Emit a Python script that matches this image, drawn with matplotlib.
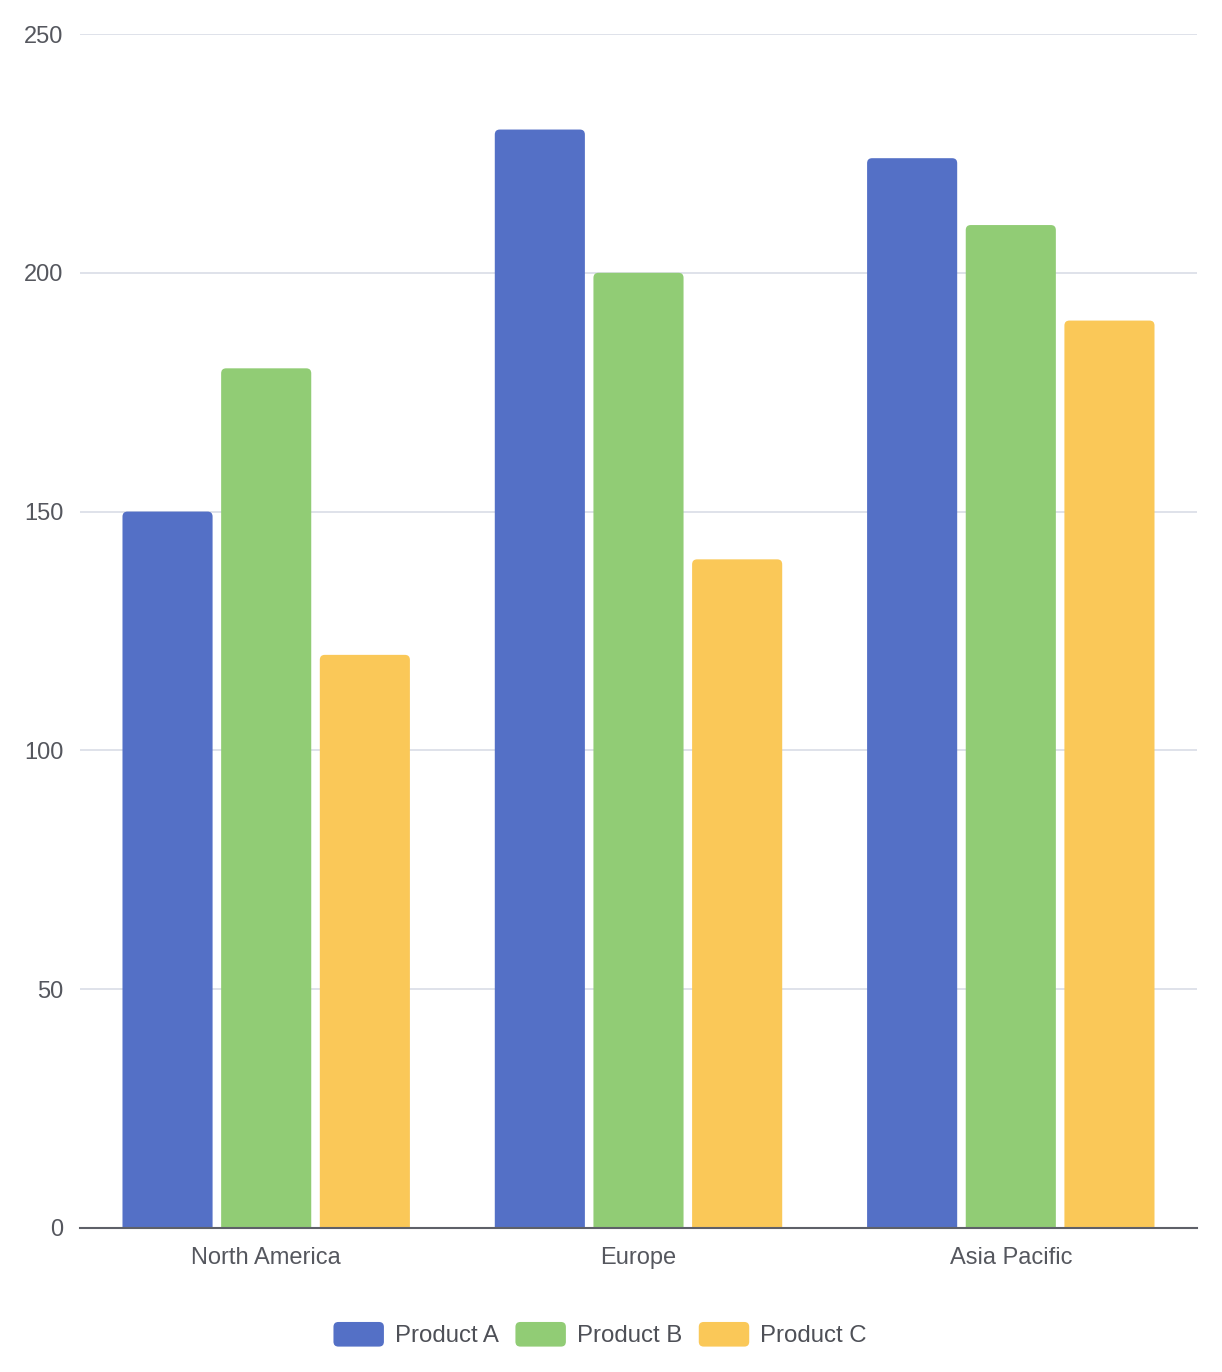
import numpy as np
import matplotlib
matplotlib.use('Agg')
import matplotlib.pyplot as plt
from matplotlib.patches import FancyBboxPatch
from matplotlib.legend_handler import HandlerPatch

# Chart data
regions = ['North America', 'Europe', 'Asia Pacific']
product_a = [150, 230, 224]
product_b = [180, 200, 210]
product_c = [120, 140, 190]
series_names = ['Product A', 'Product B', 'Product C']
colors = ['#5470c6', '#91cc75', '#fac858']
y_ticks = [0, 50, 100, 150, 200, 250]

plt.rcParams['font.family'] = ['Liberation Sans', 'DejaVu Sans']

fig = plt.figure(figsize=(12.22, 13.72), dpi=100)
ax = fig.add_axes([0.0655, 0.1050, 0.914, 0.8702])

x = np.arange(len(regions))
bar_w = 0.242
step = 0.265
ax.set_xlim(-0.5, len(regions) - 0.5)
ax.set_ylim(0, 250)

# pixel scales, used for rounding the top corners
px_x = (ax.get_position().width * 1222) / len(regions)
px_y = (ax.get_position().height * 1372) / 250
radius = 5 / px_x
aspect = px_x / px_y

for i, (vals, c) in enumerate(zip([product_a, product_b, product_c], colors)):
    bars = ax.bar(x + (i - 1) * step, vals, bar_w, color=c)
    for rect in bars:
        bx, bw, bh = rect.get_x(), rect.get_width(), rect.get_height()
        rect.remove()
        patch = FancyBboxPatch((bx, -5), bw, bh + 5,
                               boxstyle=f'round,pad=0,rounding_size={radius}',
                               mutation_aspect=aspect, facecolor=c,
                               edgecolor='none', clip_on=True, zorder=3)
        ax.add_patch(patch)

ax.set_yticks(y_ticks)
ax.set_xticks(x)
ax.set_xticklabels(regions)
ax.grid(axis='y', color='#dcdfe8', linewidth=1.3, zorder=0)
ax.set_axisbelow(True)
for s in ['top', 'right', 'left']:
    ax.spines[s].set_visible(False)
ax.spines['bottom'].set_color('#5e6068')
ax.spines['bottom'].set_linewidth(1.5)
ax.spines['bottom'].set_zorder(4)
ax.tick_params(axis='both', length=0, labelsize=17, labelcolor='#55575e')
ax.tick_params(axis='y', pad=12)
ax.tick_params(axis='x', pad=14)


class RoundHandler(HandlerPatch):
    def create_artists(self, legend, orig_handle, xdescent, ydescent,
                       width, height, fontsize, trans):
        p = FancyBboxPatch((-xdescent, -ydescent), width, height,
                           boxstyle=f'round,pad=0,rounding_size={height * 0.2}',
                           facecolor=orig_handle.get_facecolor(),
                           edgecolor='none', transform=trans)
        return [p]


handles = [FancyBboxPatch((0, 0), 1, 1, facecolor=c) for c in colors]
fig.legend(handles, series_names, loc='center', bbox_to_anchor=(0.491, 0.0272),
           ncol=3, frameon=False, fontsize=17.3, labelcolor='#4e5057',
           handlelength=2.1, handleheight=1.2, handletextpad=0.45,
           columnspacing=0.7, handler_map={FancyBboxPatch: RoundHandler()})

fig.savefig('out.png', dpi=100, facecolor='white')
